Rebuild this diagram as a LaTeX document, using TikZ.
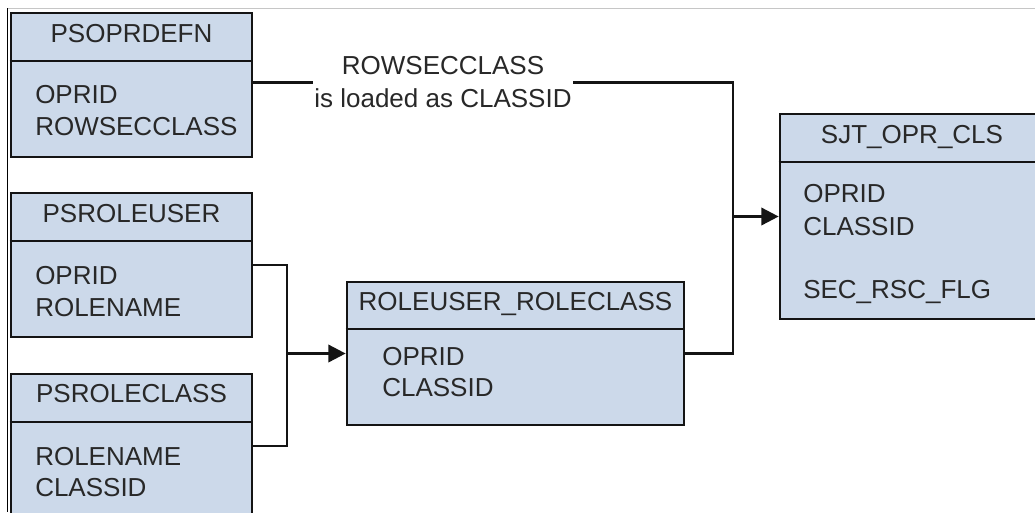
\documentclass[tikz,border=0pt]{standalone}
\usepackage{fontspec}
\setmainfont{Liberation Sans}
\usetikzlibrary{fit,arrows.meta}
\definecolor{boxfill}{RGB}{204,217,234}
\definecolor{boxline}{RGB}{20,20,20}
\definecolor{txt}{RGB}{40,40,40}
\begin{document}
\begin{tikzpicture}[x=0.75pt,y=-0.75pt,
  tbl/.style={draw=boxline, fill=boxfill, line width=2pt, inner sep=0pt, rectangle},
  divider/.style={draw=boxline, line width=2pt},
  hdrtxt/.style={anchor=base, inner sep=0pt, text=txt, font=\fontsize{19.5}{23}\selectfont},
  fldtxt/.style={anchor=base west, inner sep=0pt, text=txt, font=\fontsize{19.5}{23}\selectfont},
  conn/.style={draw=boxline, line width=2pt},
  arr/.style={conn, -{Triangle[length=13pt,width=13pt]}},
  lbltxt/.style={fill=white, inner xsep=1pt, inner ysep=2pt, align=center, text=txt, font=\fontsize{19.5}{24.75}\selectfont}
]
\useasboundingbox (0,0) rectangle (1035,512);
\clip (0,0) rectangle (1035,512);
\fill[white] (0,0) rectangle (1035,512);
% page frame
\draw[gray!45, line width=0.75pt] (7,8) -- (1035,8);
\draw[black, line width=0.75pt] (7,8) -- (7,512);

% tables
\node[tbl, fit={(11,13)(252,157)}] (psoprdefn) {};
\draw[divider] (psoprdefn.west |- 0,61) -- (psoprdefn.east |- 0,61);
\node[hdrtxt] (h1) at (131.5,42) {PSOPRDEFN};
\node[fldtxt] (f11) at (35,103) {OPRID};
\node[fldtxt] (f12) at (35,135) {ROWSECCLASS};

\node[tbl, fit={(11,193)(252,337)}] (psroleuser) {};
\draw[divider] (psroleuser.west |- 0,241) -- (psroleuser.east |- 0,241);
\node[hdrtxt] (h2) at (131.5,222) {PSROLEUSER};
\node[fldtxt] (f21) at (35,284) {OPRID};
\node[fldtxt] (f22) at (35,316) {ROLENAME};

\node[tbl, fit={(11,374)(252,518)}] (psroleclass) {};
\draw[divider] (psroleclass.west |- 0,422) -- (psroleclass.east |- 0,422);
\node[hdrtxt] (h3) at (131.5,402) {PSROLECLASS};
\node[fldtxt] (f31) at (35,465) {ROLENAME};
\node[fldtxt] (f32) at (35,496) {CLASSID};

\node[tbl, fit={(347,282)(684,425)}] (rr) {};
\draw[divider] (rr.west |- 0,329) -- (rr.east |- 0,329);
\node[hdrtxt] (h4) at (515.5,310) {ROLEUSER\_ROLECLASS};
\node[fldtxt] (f41) at (382,365) {OPRID};
\node[fldtxt] (f42) at (382,396) {CLASSID};

\node[tbl, fit={(780,114)(1045,319)}] (sjt) {};
\draw[divider] (sjt.west |- 0,162) -- (sjt.east |- 0,162);
\node[hdrtxt] (h5) at (912,143) {SJT\_OPR\_CLS};
\node[fldtxt] (f51) at (803,202) {OPRID};
\node[fldtxt] (f52) at (803,235) {CLASSID};
\node[fldtxt] (f53) at (803,298) {SEC\_RSC\_FLG};

% connectors
\coordinate (j1) at (287,0 |- rr.west);
\coordinate (j2) at (733,0 |- sjt.west);
\coordinate (lblc) at (443,82.5);
\draw[conn] (psroleuser.east) -| (j1) |- (psroleclass.east);
\draw[arr] (j1) -- (rr.west);
\draw[conn] (psoprdefn.east |- lblc) -| (j2);
\draw[conn] (rr.east) -| (j2);
\draw[arr] (j2) -- (sjt.west);
\node[lbltxt] (lbl) at (lblc) {ROWSECCLASS\\is loaded as CLASSID};
\end{tikzpicture}
\end{document}
